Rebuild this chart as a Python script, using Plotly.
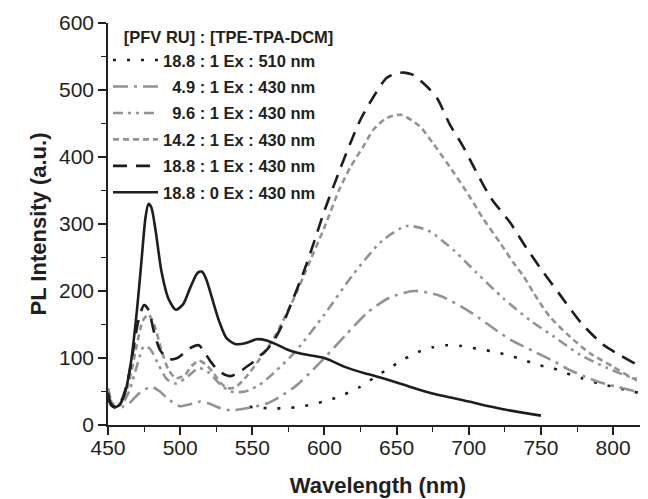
import plotly.graph_objects as go

# ---------------- data ----------------
wl_dot = [548, 561, 572, 582, 592, 603, 613, 624, 634, 645, 655, 665, 675, 684, 695, 705, 716, 726, 737, 747, 758, 768, 778, 790, 800, 810, 820, 825]
pl_dot = [27, 25, 25, 27, 31, 37, 45, 56, 70, 85, 98, 109, 116, 119, 118, 114, 110, 105, 98, 90, 85, 77, 70, 62, 57, 52, 47, 46]

wl_49 = [450, 453, 456, 460, 465, 472, 480, 486, 491, 500, 507, 514, 520, 528, 535, 546, 560, 569, 580, 590, 600, 615, 630, 645, 662, 680, 700, 722, 729, 745, 759, 770, 789, 803, 816, 825]
pl_49 = [45, 30, 26, 27, 33, 48, 57, 50, 40, 28, 31, 35, 32, 25, 22, 25, 32, 42, 58, 78, 100, 135, 168, 190, 200, 193, 170, 137, 127, 110, 95, 82, 65, 57, 50, 48]

wl_96 = [450, 453, 456, 460, 465, 470, 475, 479, 485, 491, 497, 505, 513, 520, 528, 535, 545, 555, 565, 580, 600, 620, 640, 657, 672, 690, 705, 724, 742, 759, 777, 796, 814, 825]
pl_96 = [55, 33, 28, 32, 52, 88, 118, 114, 90, 68, 62, 72, 85, 78, 60, 50, 50, 60, 78, 110, 165, 225, 275, 297, 290, 260, 228, 189, 157, 132, 105, 85, 70, 66]

wl_142 = [450, 453, 456, 460, 465, 470, 474, 478, 482, 487, 492, 497, 503, 508, 513, 518, 523, 528, 533, 538, 545, 555, 565, 578, 590, 600, 610, 618, 627, 634, 643, 653, 666, 675, 685, 700, 710, 722, 731, 738, 745, 756, 770, 784, 800, 816, 825]
pl_142 = [52, 32, 28, 36, 68, 120, 155, 165, 150, 112, 82, 70, 74, 88, 96, 90, 78, 63, 55, 56, 70, 98, 130, 185, 245, 295, 350, 385, 416, 441, 458, 463, 446, 421, 391, 343, 308, 271, 242, 222, 197, 162, 132, 107, 87, 67, 61]

wl_188 = [450, 452, 455, 459, 463, 467, 471, 475, 478, 482, 486, 490, 494, 498, 503, 508, 513, 517, 521, 526, 531, 535, 541, 546, 550, 555, 560, 566, 572, 578, 585, 592, 600, 611, 618, 625, 634, 643, 650, 655, 661, 666, 672, 678, 687, 696, 704, 715, 729, 740, 752, 764, 778, 793, 805, 819, 825]
pl_188 = [42, 30, 26, 35, 60, 105, 155, 179, 172, 138, 112, 102, 98, 100, 108, 116, 119, 108, 95, 82, 75, 73, 79, 87, 93, 103, 112, 130, 155, 187, 225, 268, 320, 383, 421, 456, 490, 518, 525, 526, 523, 515, 503, 488, 448, 416, 383, 340, 301, 264, 227, 192, 152, 120, 104, 87, 80]

wl_0 = [450, 452, 455, 458, 462, 466, 470, 473, 476, 478, 480, 483, 487, 492, 497, 502, 507, 512, 515, 518, 522, 527, 532, 538, 545, 553, 560, 567, 575, 585, 600, 615, 630, 640, 655, 673, 700, 725, 750]
pl_0 = [48, 32, 27, 30, 50, 95, 170, 240, 310, 330, 325, 290, 230, 188, 172, 180, 205, 227, 229, 218, 190, 155, 130, 121, 122, 128, 126, 120, 112, 106, 100, 86, 76, 70, 60, 48, 35, 23, 14]

legend_title = "[PFV RU] : [TPE-TPA-DCM]"
names = [
    "18.8 : 1 Ex : 510 nm",
    "\u00a0\u00a04.9 : 1 Ex : 430 nm",
    "\u00a0\u00a09.6 : 1 Ex : 430 nm",
    "14.2 : 1 Ex : 430 nm",
    "18.8 : 1 Ex : 430 nm",
    "18.8 : 0 Ex : 430 nm",
]
x_ticks = [450, 500, 550, 600, 650, 700, 750, 800]
y_ticks = [0, 100, 200, 300, 400, 500, 600]

# ---------------- styles ----------------
BLACK = "#1e1e1e"
GRAY = "#939393"
series = [
    (wl_dot, pl_dot, BLACK, "3px,11px", 2.6),
    (wl_49, pl_49, GRAY, "15px,6px,3px,6px", 2.6),
    (wl_96, pl_96, GRAY, "10px,5px,3px,5px,3px,5px", 2.6),
    (wl_142, pl_142, GRAY, "6px,4px", 2.6),
    (wl_188, pl_188, BLACK, "14px,9px", 2.6),
    (wl_0, pl_0, BLACK, "solid", 2.6),
]

fig = go.Figure()
for i, ((xs, ys, col, dash, w), nm) in enumerate(zip(series, names)):
    fig.add_trace(go.Scatter(
        x=xs, y=ys, name=nm, mode="lines",
        line=dict(color=col, dash=dash, width=w, shape="spline", smoothing=0.7),
        legendgroup=f"g{i}",
    ))

FONT = "Liberation Sans, Arial, Helvetica, sans-serif"
# the page body adds an 8px offset, so margins are set relative to it
fig.update_layout(
    width=648, height=499,
    margin=dict(l=100, r=8, t=15, b=82, autoexpand=False),
    paper_bgcolor="white", plot_bgcolor="white",
    font=dict(family=FONT, color="#231f20"),
    showlegend=True,
    legend=dict(
        x=0.0, y=1.004, xanchor="left", yanchor="top",
        bgcolor="rgba(0,0,0,0)", borderwidth=0,
        font=dict(size=16.5, family=FONT, color="#231f20", weight="bold"),
        title=dict(text="<b>\u00a0\u00a0\u00a0" + legend_title + "</b>", font=dict(size=16.5, family=FONT)),
        tracegroupgap=2, itemwidth=45,
    ),
)
fig.update_xaxes(
    range=[450, 824.2], tickvals=x_ticks, ticktext=[str(v) for v in x_ticks],
    showgrid=False, zeroline=False, showline=True, linecolor="#231f20", linewidth=1.5,
    ticks="outside", ticklen=8, tickwidth=1.5, tickcolor="#231f20",
    tickfont=dict(size=21, family=FONT), ticklabelstandoff=-5,
    minor=dict(dtick=25, tick0=450, ticks="outside", ticklen=5, tickwidth=1.3, tickcolor="#231f20"),
    title=dict(text="<b>Wavelength (nm)</b>", font=dict(size=22, family=FONT), standoff=20),
)
fig.update_yaxes(
    range=[0, 600], tickvals=y_ticks, ticktext=[str(v) for v in y_ticks],
    showgrid=False, zeroline=False, showline=True, linecolor="#231f20", linewidth=1.5,
    ticks="outside", ticklen=8, tickwidth=1.5, tickcolor="#231f20",
    tickfont=dict(size=21, family=FONT),
    minor=dict(dtick=50, tick0=0, ticks="outside", ticklen=5, tickwidth=1.3, tickcolor="#231f20"),
    title=dict(text="<b>PL Intensity (a.u.)</b>", font=dict(size=22, family=FONT), standoff=6),
)

fig.write_html("out.html")
